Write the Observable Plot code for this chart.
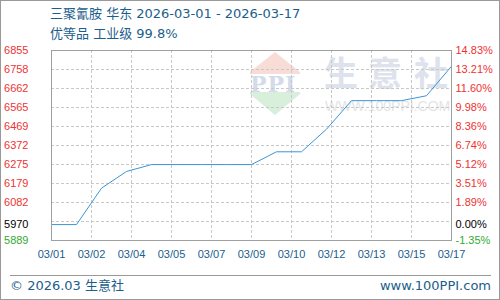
<!DOCTYPE html>
<html><head><meta charset="utf-8">
<script src="https://cdn.jsdelivr.net/npm/d3@7"></script>
<script src="https://cdn.jsdelivr.net/npm/@observablehq/plot@0.6"></script>
<style>
body{margin:0;background:#fff;}
#wrap{position:relative;width:500px;height:300px;overflow:hidden;font-family:"DejaVu Sans","Noto Sans CJK SC",sans-serif;color:#1b5e8c;}
#chart{position:absolute;left:0;top:0;}
#chart svg rect, #chart svg line{shape-rendering:crispEdges;}
.abs{position:absolute;white-space:nowrap;}
.t{font-size:13px;line-height:16px;}
#border{position:absolute;left:0;top:0;width:500px;height:300px;box-sizing:border-box;border:1px solid #999;pointer-events:none;}
.wm{position:absolute;white-space:nowrap;}
.wmc{font-family:'Noto Sans CJK SC',sans-serif;font-weight:bold;font-size:34px;line-height:40px;color:#dde2ec;}
</style></head><body>
<div id="wrap">
  <div class="wm" style="left:250px;top:52px;width:0;height:0;border-left:25px solid transparent;border-right:25px solid transparent;border-bottom:20px solid #f8dcd6;"></div>
  <div class="wm" style="left:250px;top:72px;width:50px;height:2px;background:#f8dcd6;"></div>
  <div class="wm" style="left:250px;top:71px;font:bold 22px 'DejaVu Serif',serif;color:#d3dbeb;letter-spacing:1px;">PPI</div>
  <div class="wm" style="left:250px;top:92px;width:50px;height:2px;background:#d8efdc;"></div>
  <div class="wm" style="left:250px;top:94px;width:0;height:0;border-left:25px solid transparent;border-right:25px solid transparent;border-top:21px solid #d8efdc;"></div>
  <div class="wm wmc" style="left:324px;top:52px;">生</div>
  <div class="wm wmc" style="left:368px;top:52px;">意</div>
  <div class="wm wmc" style="left:414px;top:52px;">社</div>
  <div class="wm" style="left:325px;top:99px;font:14px 'Liberation Sans',Arial,sans-serif;line-height:14px;color:#e4e4e4;">WWW.100PPI.COM</div>
  <div id="chart"></div>
  <div class="abs t" style="left:50px;top:6px;">三聚氰胺 华东 2026-03-01 - 2026-03-17</div>
  <div class="abs t" style="left:50px;top:26px;">优等品 工业级 99.8%</div>
  <div class="abs" style="left:10px;top:275px;width:481px;height:1px;background:#999;"></div>
  <div class="abs t" style="left:10px;top:278px;">© 2026.03 生意社</div>
  <div class="abs t" style="right:9px;top:278px;">www.100PPI.com</div>
  <div id="border"></div>
</div>
<script>
const dates = ["03/01","03/02","03/03","03/04","03/05","03/06","03/07","03/08","03/09","03/10","03/11","03/12","03/13","03/14","03/15","03/16","03/17"];
const prices = [5970,5970,6155,6240,6275,6275,6275,6275,6275,6340,6340,6455,6600,6600,6600,6625,6775];
const basePrice = 5970;
const xTickPos = [1,2.6,4.2,5.8,7.4,9,10.6,12.2,13.8,15.4,17];
const xTickLabels = ["03/01","03/02","03/04","03/05","03/07","03/09","03/10","03/12","03/13","03/15","03/17"];
const yTickValues = [6855,6758,6662,6565,6469,6372,6275,6179,6082,5970,5889];
const yPctLabels = ["14.83%","13.21%","11.60%","9.98%","8.36%","6.74%","5.12%","3.51%","1.89%","0.00%","-1.35%"];
const gridY = [6758.4,6661.8,6565.2,6468.6,6372,6275.4,6178.8,6082.2,5985.6];
const yDomain = [5889,6855];

const labelColor = d => d === basePrice ? "#000" : d < basePrice ? "#33aa33" : "#ee3333";

const plot = Plot.plot({
  width: 500, height: 300,
  marginLeft: 51, marginRight: 49, marginTop: 50, marginBottom: 60,
  x: {domain: [1, 17], axis: null},
  y: {domain: yDomain, axis: null},
  style: {background: "transparent", fontFamily: "'Liberation Sans', Arial, sans-serif", fontSize: "11px", overflow: "visible"},
  marks: [
    Plot.ruleY(gridY, {stroke: "#c8c8c8", strokeDasharray: "3,2"}),
    Plot.ruleX(xTickPos.slice(1, -1), {stroke: "#c8c8c8", strokeDasharray: "3,2"}),
    Plot.line(prices, {x: (d, i) => i + 1, y: d => d, stroke: "#3a96d6", strokeWidth: 1}),
    Plot.frame({stroke: "#a0a0a0"}),
    Plot.text(yTickValues, {y: d => d, frameAnchor: "left", dx: -23, textAnchor: "end", fill: labelColor, text: d => String(d)}),
    Plot.text(yTickValues, {y: d => d, frameAnchor: "right", dx: 4, textAnchor: "start", fill: labelColor, text: (d, i) => yPctLabels[i]}),
    Plot.text(xTickPos, {x: d => d, frameAnchor: "bottom", dy: 17, fill: "#1b5e8c", text: (d, i) => xTickLabels[i]})
  ]
});
document.getElementById("chart").appendChild(plot);
</script>
</body></html>
